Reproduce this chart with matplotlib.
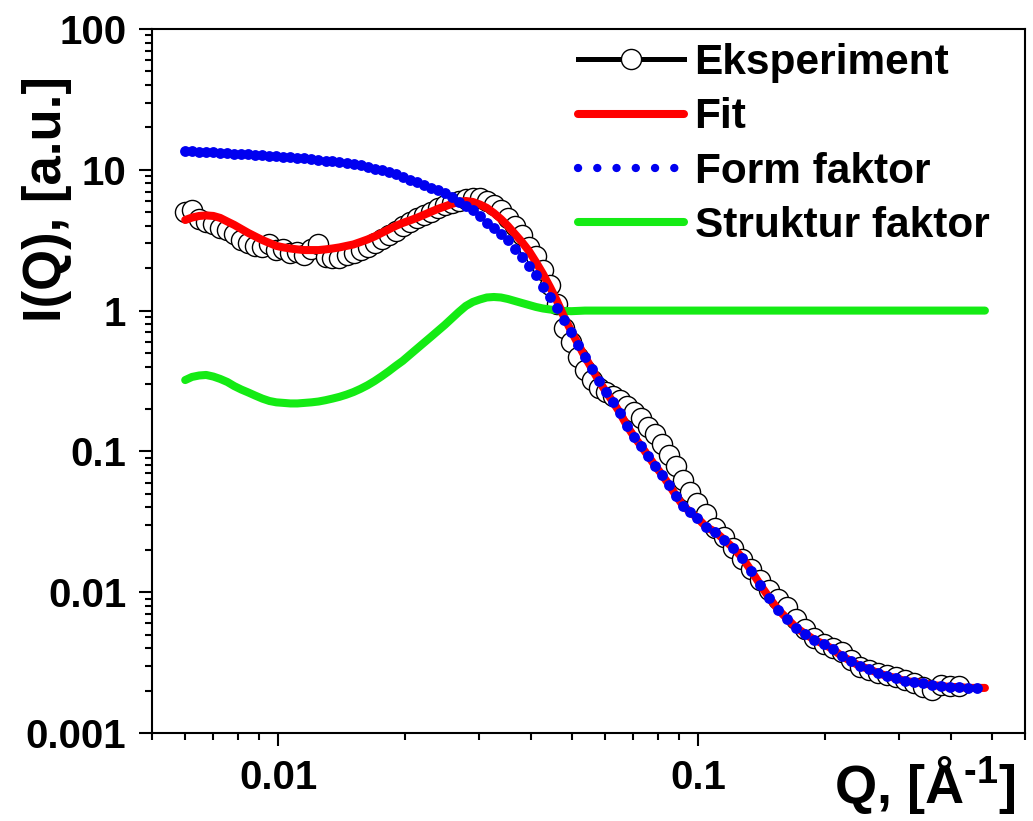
import matplotlib
matplotlib.use("Agg")
import matplotlib.pyplot as plt
from matplotlib.lines import Line2D
from matplotlib.ticker import FixedLocator, FixedFormatter, LogLocator, NullFormatter

plt.rcParams['font.family'] = ['Liberation Sans', 'DejaVu Sans']
plt.rcParams['font.weight'] = 'bold'
plt.rcParams['mathtext.fontset'] = 'custom'
plt.rcParams['mathtext.rm'] = 'Liberation Sans:bold'
plt.rcParams['mathtext.it'] = 'Liberation Sans:bold'
plt.rcParams['mathtext.bf'] = 'Liberation Sans:bold'

# scattering vector Q [1/A]
q = [0.00600, 0.00623, 0.00648, 0.00673, 0.00700, 0.00727, 0.00756, 0.00785, 0.00816, 0.00848,
     0.00881, 0.00916, 0.00952, 0.00989, 0.01028, 0.01068, 0.01110, 0.01154, 0.01199, 0.01246,
     0.01295, 0.01345, 0.01398, 0.01453, 0.01510, 0.01569, 0.01631, 0.01695, 0.01761, 0.01830,
     0.01902, 0.01977, 0.02054, 0.02135, 0.02219, 0.02306, 0.02396, 0.02490, 0.02588, 0.02689,
     0.02795, 0.02904, 0.03018, 0.03136, 0.03259, 0.03387, 0.03520, 0.03658, 0.03802, 0.03951,
     0.04106, 0.04267, 0.04434, 0.04608, 0.04789, 0.04977, 0.05172, 0.05375, 0.05585, 0.05804,
     0.06032, 0.06268, 0.06514, 0.06770, 0.07036, 0.07311, 0.07598, 0.07896, 0.08206, 0.08527,
     0.08862, 0.09209, 0.09570, 0.09945, 0.1045, 0.1098, 0.1154, 0.1212, 0.1274, 0.1338,
     0.1406, 0.1477, 0.1552, 0.1631, 0.1713, 0.1800, 0.1891, 0.1987, 0.2088, 0.2194,
     0.2306, 0.2422, 0.2545, 0.2674, 0.2810, 0.2953, 0.3102, 0.3259, 0.3424, 0.3598,
     0.3781, 0.3972, 0.4174, 0.4385, 0.4608, 0.4815]

# measured intensity (ends before the model does)
i_exp = [5.02, 5.18, 4.47, 4.26, 4.12, 3.86, 3.74, 3.50, 3.17, 3.02,
         2.88, 2.83, 2.95, 2.69, 2.74, 2.57, 2.61, 2.48, 2.74, 2.97,
         2.40, 2.36, 2.36, 2.48, 2.57, 2.69, 2.83, 3.02, 3.23, 3.44,
         3.67, 3.99, 4.26, 4.55, 4.78, 5.02, 5.36, 5.62, 5.81, 6.00,
         6.20, 6.31, 6.31, 6.00, 5.62, 5.18, 4.55, 3.99, 3.44, 2.83,
         2.44, 1.94, 1.52, 1.11, 0.752, 0.598, 0.468, 0.379, 0.321, 0.282,
         0.264, 0.247, 0.232, 0.210, 0.190, 0.173, 0.149, 0.133, 0.113, 0.0943,
         0.0788, 0.0626, 0.0515, 0.0430, 0.0359, 0.0286, 0.0247, 0.0206, 0.0172, 0.0146,
         0.0122, 0.01036, 0.00895, 0.00785, 0.00645, 0.00548, 0.00473, 0.00429, 0.00402, 0.00376,
         0.00330, 0.00294, 0.00280, 0.00267, 0.00258, 0.00250, 0.00238, 0.00227, 0.00212, 0.00202,
         0.00219, 0.00216, 0.00216]

i_fit = [4.40, 4.58, 4.70, 4.74, 4.70, 4.55, 4.29, 4.06, 3.80, 3.56,
         3.36, 3.17, 3.02, 2.88, 2.81, 2.76, 2.72, 2.69, 2.69, 2.69,
         2.72, 2.76, 2.81, 2.88, 2.95, 3.07, 3.20, 3.36, 3.56, 3.77,
         3.99, 4.19, 4.36, 4.55, 4.78, 5.02, 5.27, 5.49, 5.72, 5.91,
         6.00, 5.91, 5.67, 5.36, 4.93, 4.47, 3.99, 3.50, 3.07, 2.65,
         2.21, 1.82, 1.47, 1.17, 0.901, 0.720, 0.580, 0.468, 0.385, 0.316,
         0.264, 0.224, 0.187, 0.151, 0.127, 0.109, 0.0928, 0.0788, 0.0680, 0.0577,
         0.0482, 0.0410, 0.0371, 0.0337, 0.0290, 0.0268, 0.0235, 0.0206, 0.0175, 0.01415,
         0.01125, 0.00910, 0.00747, 0.00645, 0.00557, 0.00505, 0.00458, 0.00429, 0.00395, 0.00352,
         0.00325, 0.00299, 0.00285, 0.00267, 0.00254, 0.00246, 0.00234, 0.00230, 0.00227, 0.00219,
         0.00216, 0.00212, 0.00212, 0.00209, 0.00209, 0.00209]

i_form = [13.60, 13.60, 13.38, 13.38, 13.27, 13.16, 13.16, 13.05, 12.95, 12.84,
          12.74, 12.64, 12.53, 12.43, 12.33, 12.23, 12.13, 12.03, 11.84, 11.74,
          11.55, 11.46, 11.27, 11.18, 10.99, 10.73, 10.47, 10.21, 9.97, 9.65,
          9.34, 8.89, 8.53, 8.19, 7.80, 7.43, 7.19, 6.84, 6.36, 5.91,
          5.53, 5.14, 4.70, 4.22, 3.86, 3.50, 3.17, 2.76, 2.40, 2.07,
          1.79, 1.47, 1.25, 1.04, 0.857, 0.705, 0.570, 0.468, 0.385, 0.316,
          0.264, 0.224, 0.187, 0.151, 0.127, 0.109, 0.0928, 0.0788, 0.0680, 0.0577,
          0.0482, 0.0410, 0.0371, 0.0337, 0.0290, 0.0268, 0.0235, 0.0206, 0.0175, 0.01415,
          0.01125, 0.00910, 0.00747, 0.00645, 0.00557, 0.00505, 0.00458, 0.00429, 0.00395, 0.00352,
          0.00325, 0.00299, 0.00285, 0.00267, 0.00254, 0.00246, 0.00234, 0.00230, 0.00227, 0.00219,
          0.00216, 0.00212, 0.00212, 0.00209, 0.00209]

s_q = [0.321, 0.338, 0.346, 0.349, 0.340, 0.327, 0.311, 0.291, 0.275, 0.262,
       0.249, 0.237, 0.228, 0.223, 0.221, 0.219, 0.219, 0.221, 0.223, 0.226,
       0.231, 0.237, 0.244, 0.253, 0.264, 0.278, 0.295, 0.316, 0.341, 0.370,
       0.404, 0.439, 0.484, 0.534, 0.589, 0.649, 0.716, 0.790, 0.879, 0.977,
       1.078, 1.151, 1.199, 1.239, 1.249, 1.239, 1.209, 1.170, 1.132, 1.096,
       1.061, 1.035, 1.018, 1.005, 0.995, 0.990, 0.995, 1.0, 1.0, 1.0,
       1.0, 1.0, 1.0, 1.0, 1.0, 1.0, 1.0, 1.0, 1.0, 1.0,
       1.0, 1.0, 1.0, 1.0, 1.0, 1.0, 1.0, 1.0, 1.0, 1.0,
       1.0, 1.0, 1.0, 1.0, 1.0, 1.0, 1.0, 1.0, 1.0, 1.0,
       1.0, 1.0, 1.0, 1.0, 1.0, 1.0, 1.0, 1.0, 1.0, 1.0,
       1.0, 1.0, 1.0, 1.0, 1.0, 1.0]

labels = ['Eksperiment', 'Fit', 'Form faktor', 'Struktur faktor']
y_ticks = [0.001, 0.01, 0.1, 1, 10, 100]
y_ticklabels = ['0.001', '0.01', '0.1', '1', '10', '100']
x_ticks = [0.01, 0.1]
x_ticklabels = ['0.01', '0.1']

assert len(q) == len(i_fit) == len(s_q)

red = '#ff0000'
blue = '#0000f0'
green = '#14eb14'

fig = plt.figure(figsize=(10.33, 8.21), dpi=100)
ax = fig.add_axes([0.1471, 0.1072, 0.8452, 0.8575])

ax.plot(q[:len(i_exp)], i_exp, ls='none', marker='o', ms=14.5, mfc='white',
        mec='black', mew=1.0, zorder=2)
ax.plot(q, s_q, color=green, lw=5.8, solid_capstyle='round', zorder=3)
ax.plot(q, i_fit, color=red, lw=5.8, solid_capstyle='round', zorder=4)
ax.plot(q[:len(i_form)], i_form, ls='none', marker='o', ms=7.8, color=blue, mec='none', zorder=5)

ax.set_xscale('log')
ax.set_yscale('log')
ax.set_xlim(0.005, 0.6)
ax.set_ylim(0.001, 100)

ax.yaxis.set_major_locator(FixedLocator(y_ticks))
ax.yaxis.set_major_formatter(FixedFormatter(y_ticklabels))
ax.xaxis.set_major_locator(FixedLocator(x_ticks))
ax.xaxis.set_major_formatter(FixedFormatter(x_ticklabels))
for axis in (ax.xaxis, ax.yaxis):
    axis.set_minor_locator(LogLocator(base=10, subs=range(2, 10), numticks=20))
    axis.set_minor_formatter(NullFormatter())

ax.tick_params(which='both', direction='out', width=1.5, top=False, right=False)
ax.tick_params(which='major', length=9.5, pad=9, labelsize=29)
ax.tick_params(which='minor', length=5)
for sp in ax.spines.values():
    sp.set_linewidth(1.5)

ax.set_ylabel('I(Q), [a.u.]', fontsize=38, fontweight='bold')
ax.yaxis.set_label_coords(-0.092, 0.758)
ax.set_xlabel(r'Q, [Å$^{\text{-}1}$]', fontsize=39, fontweight='bold', ha='right')
ax.xaxis.set_label_coords(0.99, -0.03)
try:
    fig.canvas.draw()
except Exception:
    ax.set_xlabel(r'Q, [Å$^{-1}$]', fontsize=39, fontweight='bold', ha='right')

handles = [
    Line2D([], [], color='black', lw=3.6, marker='o', ms=14.5, mfc='white', mec='black', mew=1.0),
    Line2D([], [], color=red, lw=5.8, solid_capstyle='round'),
    Line2D([], [], color=blue, lw=6, ls=(0, (0.01, 2.3)), dash_capstyle='round'),
    Line2D([], [], color=green, lw=5.8, solid_capstyle='round'),
]
ax.legend(handles, labels, loc='upper left', bbox_to_anchor=(0.488, 0.98), frameon=False,
          numpoints=1, handlelength=2.5, handletextpad=0.25,
          labelspacing=0.34, borderpad=0, borderaxespad=0,
          prop={'weight': 'bold', 'size': 30.5})

fig.savefig('out.png', dpi=100)
